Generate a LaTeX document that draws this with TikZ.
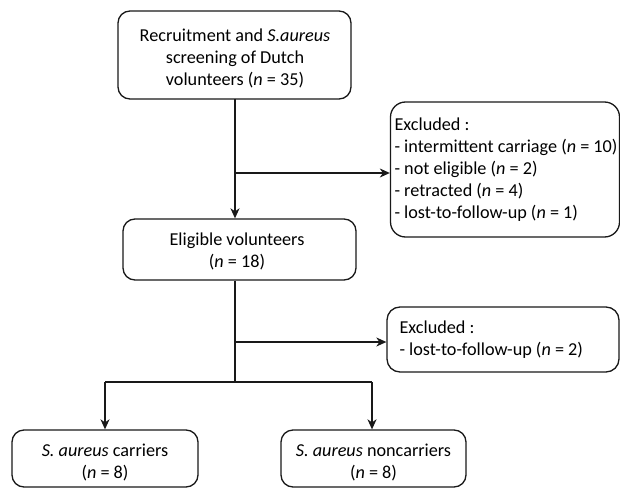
\documentclass[tikz,border=0pt]{standalone}
\usepackage{fontspec}
\setmainfont{Carlito}
\usetikzlibrary{arrows.meta,calc}
\begin{document}
\begin{tikzpicture}[x=1pt,y=-1pt,
  box/.style={draw=black!90, line width=1.3pt, rounded corners=12pt, inner sep=0pt},
  txt/.style={inner sep=0pt, font=\fontsize{18.2}{22}\selectfont},
  conn/.style={draw=black!90, line width=1.3pt},
  arr/.style={conn, -{Stealth[length=10pt,width=9pt,inset=3pt]}}]
\useasboundingbox[fill=white] (0,0) rectangle (620,489);
% boxes
\node[box, minimum width=233pt, minimum height=88pt] (top) at (234.5,55) {};
\node[txt, align=center] (toptxt) at (235,58) {Recruitment and \textit{S.aureus}\\screening of Dutch\\volunteers (\textit{n} = 35)};
\node[box, minimum width=233pt, minimum height=61pt] (elig) at (239.5,249.5) {};
\node[txt, align=center] (eligtxt) at (237,251) {Eligible volunteers\\(\textit{n} = 18)};
\node[box, rounded corners=15pt, minimum width=229pt, minimum height=135pt] (ex1) at (505,169.5) {};
\node[txt, align=left, anchor=west] (ex1txt) at ($(ex1.west)+(4.5,0)$) {Excluded :\\- intermittent carriage (\textit{n} = 10)\\- not eligible (\textit{n} = 2)\\- retracted (\textit{n} = 4)\\- lost-to-follow-up (\textit{n} = 1)};
\node[box, rounded corners=13pt, minimum width=232pt, minimum height=65pt] (ex2) at (503,339.5) {};
\node[txt, align=left, anchor=west] (ex2txt) at ($(ex2.west)+(13,0)$) {Excluded :\\- lost-to-follow-up (\textit{n} = 2)};
\node[box, minimum width=186pt, minimum height=57pt] (car) at (105,458.5) {};
\node[txt, align=center] (cartxt) at (105,462) {\textit{S. aureus} carriers\\(\textit{n} = 8)};
\node[box, minimum width=185pt, minimum height=57pt] (non) at (373.5,458.5) {};
\node[txt, align=center] (nontxt) at (373.5,462) {\textit{S. aureus} noncarriers\\(\textit{n} = 8)};
% spine coordinates
\coordinate (s0) at (235,99);
\coordinate (b1) at (235,173);
\coordinate (b2) at (235,342);
\coordinate (sp) at (235,382);
\coordinate (spl) at (105,382);
\coordinate (spr) at (372,382);
% connectors
\draw[arr] (s0) -- (s0 |- elig.north);
\draw[arr] (b1) -- (b1 -| ex1.west);
\draw[conn] (s0 |- elig.south) -- (sp);
\draw[arr] (b2) -- (b2 -| ex2.west);
\draw[conn] (spl) -- (spr);
\draw[arr] (spl) -- (spl |- car.north);
\draw[arr] (spr) -- (spr |- non.north);
\end{tikzpicture}
\end{document}
